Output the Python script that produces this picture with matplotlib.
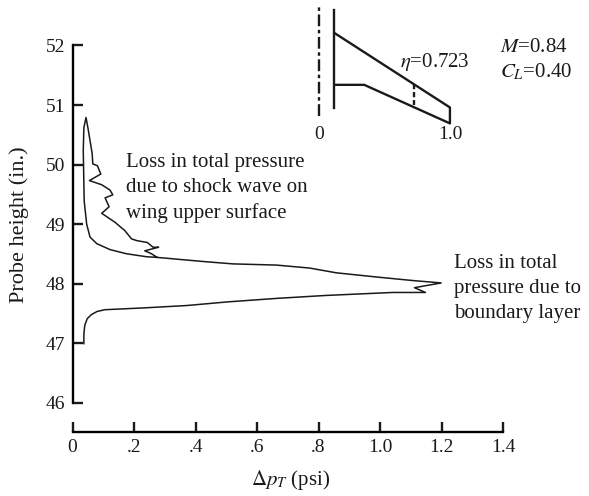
import matplotlib
matplotlib.use('Agg')
import matplotlib.pyplot as plt

plt.rcParams['font.family'] = ['Liberation Serif', 'DejaVu Serif']
plt.rcParams['mathtext.fontset'] = 'stix'

# total pressure loss vs probe height, from bottom of wake up and back down the shock side
dp = [.037, .037, .040, .048, .062, .080, .105, .230, .371, .501, .663, .825, 1.042, 1.148, 1.112, 1.199,
      1.107, .988, .858, .771, .663, .522, .425, .273, .241, .176, .122, .079, .057, .046,
      .038, .035, .037, .044, .050, .059, .064, .066, .081, .092, .055, .095, .122, .131,
      .106, .119, .095, .138, .170, .192, .210, .243, .262, .280, .235, .257, .275]
height = [46.99, 47.15, 47.30, 47.41, 47.48, 47.53, 47.56, 47.59, 47.63, 47.69, 47.75, 47.80, 47.85, 47.85, 47.93, 48.01,
          48.05, 48.11, 48.18, 48.26, 48.31, 48.33, 48.37, 48.44, 48.45, 48.50, 48.57, 48.67, 48.78, 49.00,
          49.39, 50.23, 50.62, 50.79, 50.62, 50.34, 50.18, 50.01, 49.98, 49.84, 49.73, 49.66, 49.57, 49.49,
          49.44, 49.29, 49.18, 49.03, 48.89, 48.75, 48.72, 48.69, 48.61, 48.61, 48.55, 48.50, 48.44]

x_ticks = [0, .2, .4, .6, .8, 1.0, 1.2, 1.4]
x_labels = ['0', '.2', '.4', '.6', '.8', '1.0', '1.2', '1.4']
y_ticks = [46, 47, 48, 49, 50, 51, 52]

# wing planform sketch (span fraction, chord position)
center_x = [0, 0]
center_y = [.056, .905]
root_x = [.115, .115]
root_y = [.117, .867]
wing_x = [.12, 1.0, 1.0, .344, .12]
wing_y = [.689, .122, 0, .295, .295]
station_x = [.723, .723]
station_y = [.30, .14]

W, H = 589, 496
INK = '#1a1a1a'
fig = plt.figure(figsize=(W / 100, H / 100), dpi=100)

ax = fig.add_axes([72.5 / W, 1 - 431.7 / H, (503 - 72.5) / W, (431.7 - 45.5) / H])
ax.plot(dp, height, color=INK, lw=1.1)
ax.set_xlim(0, 1.4)
ax.set_ylim(45.51, 52)
ax.spines['top'].set_visible(False)
ax.spines['right'].set_visible(False)
ax.spines['left'].set_bounds(46, 52)
ax.spines['left'].set_linewidth(1.7)
ax.spines['bottom'].set_linewidth(1.7)
ax.set_xticks(x_ticks)
ax.set_xticklabels(x_labels)
ax.set_yticks(y_ticks)
ax.tick_params(direction='in', length=7, width=1.7, labelsize=14, color=INK, labelcolor=INK)
ax.tick_params(axis='x', pad=5)
ax.tick_params(axis='y', pad=5)
ax.set_xlabel(r'$\Delta p_T$ (psi)', fontsize=15, color=INK)
ax.xaxis.set_label_coords(.507, -.095)
ax.set_ylabel('Probe height (in.)', fontsize=16, color=INK)
ax.yaxis.set_label_coords(-.10, .535)

ax.text(.174, 49.605, 'Loss in total pressure\ndue to shock wave on\nwing upper surface',
        fontsize=15, va='center', color=INK, linespacing=1.44)
ax.text(1.242, 47.92, 'Loss in total\npressure due to\nboundary layer',
        fontsize=15, va='center', color=INK, linespacing=1.44)
fig.text(500 / W, 1 - 60 / H, '$M$=0.84\n$C_L$=0.40', fontsize=15, va='center', color=INK, linespacing=1.25)

# inset, same scale on both directions
inset = fig.add_axes([306.2 / W, 1 - 143 / H, 156.8 / W, 143 / H])
inset.set_xlim(-.1, 1.1)
inset.set_ylim(-.15, .944)
inset.axis('off')
inset.patch.set_alpha(0)
inset.plot(center_x, center_y, color=INK, lw=1.7, ls=(0, (5, 1.5, 1.5, 1.5)))
inset.plot(root_x, root_y, color=INK, lw=1.7)
inset.plot(wing_x, wing_y, color=INK, lw=1.7)
inset.plot(station_x, station_y, color=INK, lw=1.7, ls=(0, (2.2, 1.2)))
inset.text(.62, .47, r'$\eta$=0.723', fontsize=15, va='center', color=INK)
inset.text(0, -.085, '0', fontsize=14, ha='center', va='center', color=INK)
inset.text(1.0, -.085, '1.0', fontsize=14, ha='center', va='center', color=INK)

fig.savefig('out.png', dpi=100)
